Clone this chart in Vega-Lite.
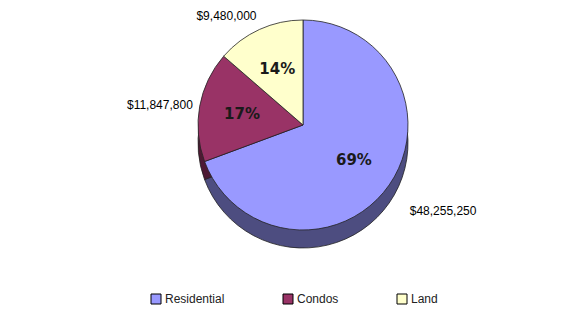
{
  "$schema": "https://vega.github.io/schema/vega-lite/v6.json",
  "width": 514,
  "height": 250,
  "autosize": {"type": "none"},
  "padding": {"left": 46, "top": 0, "right": 1, "bottom": 71},
  "background": "white",
  "config": {"view": {"stroke": null}, "font": "Liberation Sans"},
  "data": {
    "values": [
      {"cat": "Residential", "value": 48255250, "pct": "69%", "amt": "$48,255,250"},
      {"cat": "Condos", "value": 11847800, "pct": "17%", "amt": "$11,847,800"},
      {"cat": "Land", "value": 9480000, "pct": "14%", "amt": "$9,480,000"}
    ]
  },
  "encoding": {
    "theta": {"field": "value", "type": "quantitative", "stack": true},
    "order": {"field": "value", "type": "quantitative", "sort": "descending"}
  },
  "layer": [
    {
      "mark": {"type": "arc", "radius": 105, "yOffset": 18, "stroke": "#222", "strokeWidth": 0.8},
      "encoding": {
        "color": {
          "field": "cat", "type": "nominal",
          "scale": {"domain": ["Residential", "Condos", "Land"], "range": ["#4D4D80", "#4D1933", "#80805F"]},
          "legend": null
        }
      }
    },
    {
      "mark": {"type": "arc", "radius": 105, "stroke": "#222", "strokeWidth": 0.8},
      "encoding": {
        "color": {
          "field": "cat", "type": "nominal",
          "scale": {"domain": ["Residential", "Condos", "Land"], "range": ["#9999FF", "#993366", "#FFFFCC"]},
          "legend": {
            "orient": "none", "legendX": 104, "legendY": 293, "direction": "horizontal",
            "title": null, "symbolType": "square", "symbolSize": 100,
            "symbolStrokeColor": "#000", "symbolStrokeWidth": 1,
            "labelFontSize": 12, "labelFont": "Liberation Sans", "labelColor": "#222",
            "columnPadding": 56, "labelOffset": 3
          }
        }
      }
    },
    {
      "mark": {"type": "text", "radius": 62, "font": "DejaVu Sans", "fontWeight": "bold", "fontSize": 15, "fill": "#1a1a1a"},
      "encoding": {"text": {"field": "pct", "type": "nominal"}}
    },
    {
      "mark": {"type": "text", "radius": 130, "align": "left", "baseline": "middle", "dy": 12, "fontSize": 12, "fill": "#000"},
      "encoding": {"text": {"condition": {"test": "datum.cat === 'Residential'", "field": "amt"}, "value": ""}}
    },
    {
      "mark": {"type": "text", "radius": 112, "align": "right", "baseline": "middle", "fontSize": 12, "fill": "#000"},
      "encoding": {"text": {"condition": {"test": "datum.cat === 'Condos'", "field": "amt"}, "value": ""}}
    },
    {
      "mark": {"type": "text", "radius": 112, "align": "right", "baseline": "bottom", "fontSize": 12, "fill": "#000"},
      "encoding": {"text": {"condition": {"test": "datum.cat === 'Land'", "field": "amt"}, "value": ""}}
    }
  ],
  "resolve": {"scale": {"color": "independent"}}
}
